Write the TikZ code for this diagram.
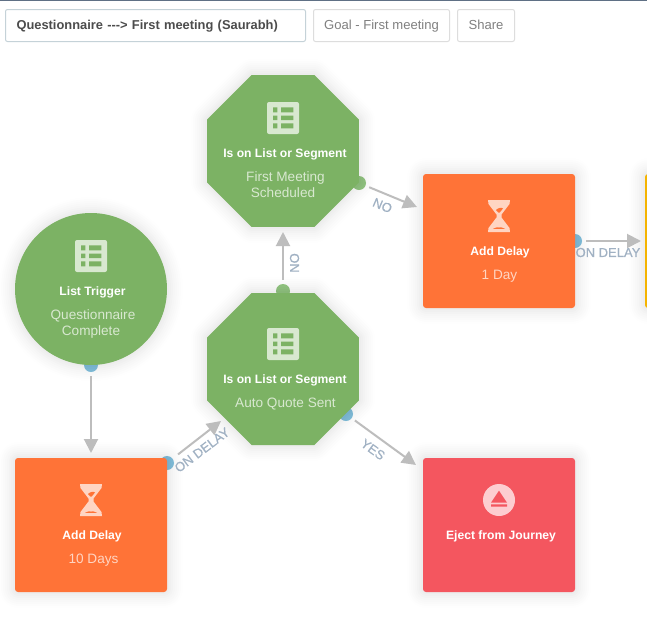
\documentclass[tikz,border=0pt]{standalone}
\usepackage{fontspec}
\setmainfont{Liberation Sans}
\newfontfamily\labelfont[FakeBold=0.5]{Liberation Sans}
\usetikzlibrary{shapes.geometric,arrows.meta}
\definecolor{cgreen}{HTML}{7CB264}
\definecolor{corange}{HTML}{FF7337}
\definecolor{cred}{HTML}{F4565F}
\definecolor{cyellow}{HTML}{F5B400}
\definecolor{cbluedot}{HTML}{84C2DE}
\definecolor{cgreendot}{HTML}{96C884}
\definecolor{clabel}{HTML}{A0B1C3}
\definecolor{clink}{HTML}{BDBDBD}
\definecolor{subgreen}{HTML}{D8E8D0}
\definecolor{suborange}{HTML}{FFD5C3}
\definecolor{facered}{HTML}{FDCDD0}
\definecolor{topline}{HTML}{5F7085}
\definecolor{bordera}{HTML}{C5D2D8}
\definecolor{borderb}{HTML}{DDDDDD}
\tikzset{
  softshadow/.style={
    preaction={draw=black,draw opacity=.005,line join=round,line width=24pt},
    preaction={draw=black,draw opacity=.006,line join=round,line width=21pt},
    preaction={draw=black,draw opacity=.007,line join=round,line width=18pt},
    preaction={draw=black,draw opacity=.008,line join=round,line width=15pt},
    preaction={draw=black,draw opacity=.009,line join=round,line width=12pt},
    preaction={draw=black,draw opacity=.010,line join=round,line width=9pt},
    preaction={draw=black,draw opacity=.011,line join=round,line width=6pt},
    preaction={draw=black,draw opacity=.012,line join=round,line width=3pt}},
  boxnode/.style={rectangle,rounded corners=2.25pt,minimum width=114pt,minimum height=100.5pt,inner sep=0pt,outer sep=0pt,softshadow},
  delaybox/.style={boxnode,fill=corange},
  octnode/.style={regular polygon,regular polygon sides=8,minimum size=123.39pt,inner sep=0pt,outer sep=0pt,fill=cgreen,softshadow},
  roundnode/.style={circle,minimum size=114pt,inner sep=0pt,outer sep=0pt,fill=cgreen,softshadow},
  dotnode/.style={circle,minimum size=10.5pt,inner sep=0pt,outer sep=0pt,fill=#1},
  link/.style={draw=clink,line width=1.5pt,-{Triangle[length=10.5pt,width=10.5pt]}},
  headtext/.style={anchor=base,text=white,font=\fontsize{9.1}{11}\bfseries},
  subtext/.style={anchor=base,font=\fontsize{10.2}{12}\selectfont},
  linklabel/.style={text=clabel,font=\fontsize{9.75}{12}\labelfont,inner sep=0pt},
  btn/.style={draw,rounded corners=1.5pt,line width=.75pt,minimum height=24pt,inner ysep=0pt,text height=7.5pt,text depth=2pt,font=\fontsize{9.8}{12}\selectfont},
  listicon/.pic={
    \fill[subgreen,rounded corners=1.5pt] (-16,-16) rectangle (16,16);
    \fill[cgreen] (-10,-10.7) rectangle (-5.7,-5.7) (-2,-10.7) rectangle (10.3,-5.7)
      (-10,-2.4) rectangle (-5.7,2.2) (-2,-2.4) rectangle (10.3,2.2)
      (-10,5.3) rectangle (-5.7,10.3) (-2,5.3) rectangle (10.3,10.3);
  },
  hourglass/.pic={
    \fill[suborange] (-11,-16) -- (11,-16) -- (10.5,-12) -- (2.5,-1.5) -- (2.5,1.5) -- (10.5,12) -- (11,16)
      -- (-11,16) -- (-10.5,12) -- (-2.5,1.5) -- (-2.5,-1.5) -- (-10.5,-12) -- cycle;
    \fill[corange] (-3,-6) .. controls (-1,-8.5) and (3,-8.5) .. (4,-7.5) -- (0.7,-3.5) -- (-0.7,-3.5) -- cycle;
    \fill[corange] (-6,12.8) .. controls (-3,11) and (-2,11.5) .. (0,11.5) .. controls (2,11.5) and (3,11) .. (6,12.8) -- cycle;
  },
  ejecticon/.pic={
    \fill[facered] (0,0) circle[radius=16];
    \fill[cred] (0,-9.3) -- (8,2.7) -- (-8,2.7) -- cycle (-8,4.3) rectangle (8,6.7);
  }
}
\begin{document}
\begin{tikzpicture}[x=.75pt,y=-.75pt]
\clip (0,0) rectangle (647,636);
\fill[white] (0,0) rectangle (647,636);
\fill[topline] (0,0) rectangle (647,1);

% buttons
\node[btn,draw=bordera,text=black!70,anchor=west,text width=208.5pt,inner xsep=8.25pt,align=left,font=\fontsize{9.65}{12}\bfseries] (bname) at (5,25.5) {Questionnaire -{}-{}-> First meeting (Saurabh)};
\node[btn,draw=borderb,text=black!50,anchor=west,minimum width=102pt,inner xsep=0pt] (bgoal) at (313,25.5) {Goal - First meeting};
\node[btn,draw=borderb,text=black!50,anchor=west,minimum width=42.75pt,inner xsep=0pt] (bshare) at (457,25.5) {Share};

% output dots sit behind the shapes
\node[dotnode=cbluedot] (dtrigger) at (91,365) {};
\node[dotnode=cbluedot] (dten) at (167,463) {};
\node[dotnode=cgreendot] (dno) at (283,291) {};
\node[dotnode=cbluedot] (dyes) at (346,414) {};
\node[dotnode=cgreendot] (dfirst) at (359,183) {};
\node[dotnode=cbluedot] (done) at (575,241) {};

% shapes
\node[octnode] (ofirst) at (283,151) {};
\node[octnode] (oauto) at (283,369) {};
\node[roundnode] (trigger) at (91,289) {};
\node[delaybox] (delayone) at (499,241) {};
\node[delaybox] (delayten) at (91,525) {};
\node[boxnode,fill=cred] (eject) at (499,525) {};
\node[boxnode,fill=cyellow] (nextbox) at (721,241) {};

% icons
\pic at (283,118) {listicon};
\pic at (283,344) {listicon};
\pic at (91,256) {listicon};
\pic at (499,216) {hourglass};
\pic at (91,500) {hourglass};
\pic at (499,500) {ejecticon};

% texts
\node[headtext] (t1) at (285,157) {Is on List or Segment};
\node[subtext,text=subgreen] (t1a) at (285.5,181) {First Meeting};
\node[subtext,text=subgreen] (t1b) at (283,197) {Scheduled};
\node[headtext] (t2) at (285,383) {Is on List or Segment};
\node[subtext,text=subgreen] (t2a) at (285.5,407) {Auto Quote Sent};
\node[headtext] (t3) at (92.5,295) {List Trigger};
\node[subtext,text=subgreen] (t3a) at (93,319) {Questionnaire};
\node[subtext,text=subgreen] (t3b) at (91,335) {Complete};
\node[headtext] (t4) at (500,255) {Add Delay};
\node[subtext,text=suborange] (t4a) at (499.5,279) {1 Day};
\node[headtext] (t5) at (92,539) {Add Delay};
\node[subtext,text=suborange] (t5a) at (93.5,563) {10 Days};
\node[headtext] (t6) at (501,539) {Eject from Journey};

% connector tips
\coordinate (tipauto) at (221,421);
\coordinate (tipone) at (417,207);
\coordinate (tipeject) at (416,465);

% connectors
\draw[link,shorten <=3pt,shorten >=3.75pt] (dtrigger) -- (delayten);
\draw[link,shorten <=5.25pt] (dten) -- (tipauto);
\draw[link,shorten <=3pt,shorten >=3.75pt] (dno) -- (ofirst);
\draw[link,shorten <=3pt] (dfirst) -- (tipone);
\draw[link,shorten <=3pt] (dyes) -- (tipeject);
\draw[link,shorten <=3pt,shorten >=3pt] (done) -- (nextbox);

% connector labels
\node[linklabel,rotate=37] (l1) at (202,450) {ON DELAY};
\node[linklabel,rotate=90] (l2) at (294.5,263) {NO};
\node[linklabel,rotate=-23] (l3) at (382.5,205.5) {NO};
\node[linklabel,rotate=-36] (l4) at (373,449.5) {YES};
\node[linklabel] (l5) at (608,252.5) {ON DELAY};
\end{tikzpicture}
\end{document}
